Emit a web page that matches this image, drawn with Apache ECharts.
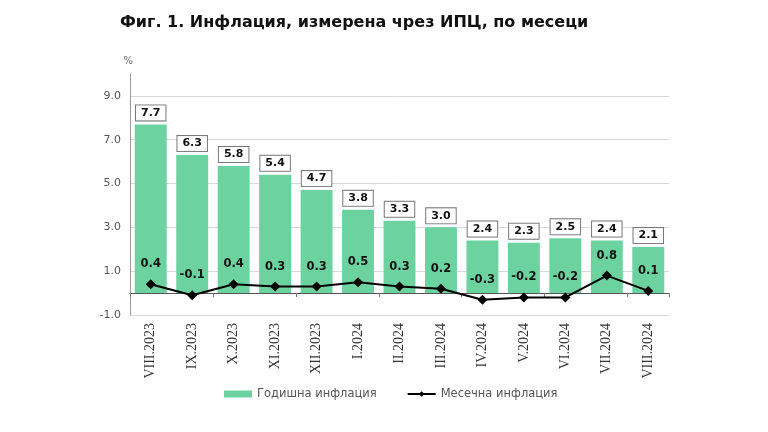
<!DOCTYPE html>
<html>
<head>
<meta charset="utf-8">
<script src="https://cdn.jsdelivr.net/npm/echarts@6/dist/echarts.min.js"></script>
<style>
html,body{margin:0;padding:0;background:#fff;}
#chart{width:768px;height:432px;}
</style>
</head>
<body>
<div id="chart"></div>
<script>
const categories = ['VIII.2023','IX.2023','X.2023','XI.2023','XII.2023','I.2024','II.2024','III.2024','IV.2024','V.2024','VI.2024','VII.2024','VIII.2024'];
const annualInflation = [7.7, 6.3, 5.8, 5.4, 4.7, 3.8, 3.3, 3.0, 2.4, 2.3, 2.5, 2.4, 2.1];
const monthlyInflation = [0.4, -0.1, 0.4, 0.3, 0.3, 0.5, 0.3, 0.2, -0.3, -0.2, -0.2, 0.8, 0.1];
const seriesNames = ['Годишна инфлация', 'Месечна инфлация'];
const titleText = 'Фиг. 1. Инфлация, измерена чрез ИПЦ, по месеци';

const chart = echarts.init(document.getElementById('chart'), null, {renderer: 'canvas'});
chart.setOption({
  animation: false,
  backgroundColor: '#ffffff',
  title: {
    text: titleText,
    left: 115, top: 10,
    textStyle: {fontFamily: 'DejaVu Sans', fontWeight: 'bold', fontSize: 16, color: '#111'}
  },
  grid: {left: 130, right: 99, top: 74, bottom: 117},
  legend: {
    bottom: 27, left: 219,
    itemWidth: 28, itemHeight: 7, itemGap: 30,
    textStyle: {fontFamily: 'DejaVu Sans', fontSize: 11.5, color: '#555'},
    data: [
      {name: seriesNames[0], icon: 'rect'},
      {name: seriesNames[1]}
    ]
  },
  xAxis: [
    {
      type: 'category', data: categories, position: 'bottom',
      axisLine: {onZero: true, lineStyle: {color: '#555', width: 1}},
      axisTick: {show: true, length: 4, lineStyle: {color: '#777'}},
      axisLabel: {show: false}
    },
    {
      type: 'category', data: categories, position: 'bottom',
      axisLine: {show: false, onZero: false},
      axisTick: {show: false},
      axisLabel: {
        rotate: 90, margin: 8,
        fontFamily: 'Liberation Serif', fontSize: 14, color: '#333'
      }
    }
  ],
  yAxis: {
    type: 'value', min: -1, max: 10, interval: 2,
    name: '%', nameLocation: 'end', nameGap: 8,
    nameTextStyle: {fontFamily: 'DejaVu Sans', fontSize: 10, color: '#666', align: 'right', padding: [0, -3, 0, 0]},
    axisLine: {show: true, lineStyle: {color: '#999'}},
    axisTick: {show: false},
    axisLabel: {
      showMaxLabel: false, margin: 9,
      fontFamily: 'DejaVu Sans', fontSize: 11, color: '#555',
      formatter: v => v.toFixed(1)
    },
    splitLine: {show: true, showMaxLine: false, lineStyle: {color: '#d9d9d9', width: 1}}
  },
  series: [
    {
      name: seriesNames[0], type: 'bar', data: annualInflation,
      xAxisIndex: 0,
      barCategoryGap: '23%',
      itemStyle: {color: '#6cd3a0'},
      label: {
        show: true, position: 'top', distance: 4,
        formatter: p => p.value.toFixed(1),
        fontFamily: 'DejaVu Sans', fontWeight: 'bold', fontSize: 11, color: '#111',
        backgroundColor: '#fff', borderColor: '#777', borderWidth: 1,
        padding: [2, 5, 2, 5]
      },
      z: 2
    },
    {
      name: seriesNames[1], type: 'line', data: monthlyInflation,
      xAxisIndex: 0,
      symbol: 'diamond', symbolSize: 10,
      lineStyle: {color: '#000', width: 2},
      itemStyle: {color: '#000'},
      label: {
        show: true, position: 'top', distance: 9,
        formatter: p => p.value.toFixed(1),
        fontFamily: 'DejaVu Sans', fontWeight: 'bold', fontSize: 11.5, color: '#111'
      },
      z: 3
    }
  ]
});
</script>
</body>
</html>
